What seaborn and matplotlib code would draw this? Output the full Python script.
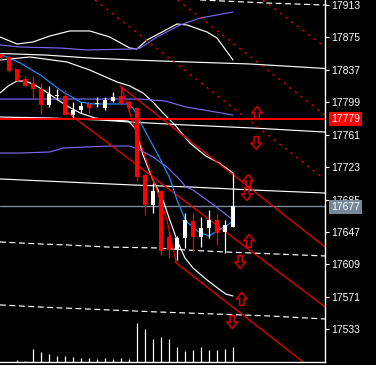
import numpy as np
import pandas as pd
import matplotlib
matplotlib.use("Agg")
import matplotlib.pyplot as plt
import matplotlib.transforms as mtransforms
from matplotlib.path import Path
import seaborn as sns

# ---------------- data ----------------
bar_idx = list(range(30))
opens = [17855.6, 17852.0, 17837.6, 17826.6, 17821.2, 17815.1, 17795.8, 17806.3, 17806.3, 17784.0,
         17789.9, 17796.9, 17796.9, 17791.9, 17800.8, 17806.3, 17799.9, 17792.3, 17713.7, 17678.5,
         17694.9, 17641.0, 17625.8, 17639.5, 17659.8, 17641.4, 17651.2, 17661.0, 17646.9, 17653.1]
highs = [17856.7, 17854.4, 17838.0, 17829.8, 17829.8, 17822.1, 17818.6, 17814.2, 17813.4, 17799.6,
         17799.6, 17799.6, 17805.7, 17805.5, 17811.4, 17816.9, 17801.6, 17793.4, 17714.9, 17704.3,
         17696.1, 17649.2, 17642.2, 17669.2, 17668.8, 17664.8, 17672.7, 17668.0, 17661.0, 17715.7]
lows = [17848.5, 17834.5, 17823.9, 17816.9, 17802.5, 17785.8, 17794.0, 17801.6, 17784.0, 17782.3,
        17786.0, 17786.0, 17793.4, 17789.9, 17799.6, 17795.8, 17788.7, 17706.7, 17667.4, 17669.5,
        17619.9, 17616.4, 17614.1, 17627.8, 17623.8, 17629.7, 17639.5, 17631.6, 17622.3, 17653.1]
closes = [17850.5, 17835.6, 17824.5, 17818.0, 17814.2, 17795.8, 17808.3, 17807.5, 17784.6, 17789.9,
          17794.6, 17791.9, 17798.1, 17801.6, 17805.5, 17797.5, 17792.3, 17711.7, 17678.5, 17694.9,
          17625.2, 17625.8, 17639.5, 17661.0, 17641.4, 17651.2, 17661.0, 17645.7, 17655.1, 17677.4]
volumes = [0, 0, 23, 13, 130, 100, 80, 63, 63, 53, 43, 43, 33, 43, 33, 43, 33,
           390, 330, 230, 250, 230, 150, 110, 120, 150, 120, 120, 130, 150]

# indicator lines: (bar position, price)
white_top_x = [-0.125, 2, 4, 6.1, 8.6, 11.1, 13.6, 16.1, 17, 18.25, 19.9, 22, 23.25, 25.75, 27, 29]
white_top_y = [17875.5, 17867.3, 17869.7, 17876.7, 17882.6, 17882.6, 17875.5, 17862.6, 17861.5, 17872.0,
               17880.2, 17890.8, 17889.6, 17881.4, 17874.3, 17848.6]
purple_top_x = [-0.125, 2.4, 7.4, 10.75, 16.5, 17.4, 19.5, 22.4, 24.9, 29]
purple_top_y = [17866.2, 17863.8, 17862.6, 17860.3, 17861.5, 17862.6, 17875.5, 17889.6, 17897.8, 17904.8]
white_lvl1_x = [-0.125, 5.5, 11.1, 16.75, 23.6, 31.1, 37.4, 40.5]
white_lvl1_y = [17856.2, 17854.4, 17850.9, 17848.5, 17846.2, 17843.9, 17840.4, 17838.6]
white_upper_x = [-0.125, 3.6, 8.25, 11.1, 14.5, 16.1, 17.75, 19, 20.25, 21.75, 23.6, 25.6, 27.25, 29]
white_upper_y = [17848.6, 17852.1, 17846.2, 17836.8, 17822.8, 17818.1, 17809.9, 17799.3, 17786.4,
                 17772.4, 17751.3, 17736.0, 17727.8, 17716.1]
white_lower_x = [-0.125, 0.9, 2, 3, 4.25, 5.5, 6.75, 8.25, 9.9, 11.75, 13.6, 15.9, 16.75, 17.75, 19,
                 20.25, 21.1, 22, 23, 24, 25.75, 27.4, 28.1, 29]
white_lower_y = [17809.9, 17818.1, 17823.9, 17823.9, 17819.3, 17812.2, 17804.0, 17794.6, 17786.4,
                 17780.6, 17778.2, 17777.0, 17768.8, 17737.2, 17707.9, 17684.4, 17661.0, 17637.5,
                 17616.4, 17604.7, 17590.7, 17578.9, 17574.2, 17571.9]
white_lvl2_x = [-0.125, 6.1, 12.4, 16.1, 23.1, 31.5, 40.5]
white_lvl2_y = [17781.7, 17780.6, 17778.2, 17775.9, 17772.4, 17768.8, 17764.1]
white_lvl3_x = [-0.125, 8.25, 16.5, 23.6, 31.5, 40.5]
white_lvl3_y = [17709.1, 17705.5, 17702.0, 17699.7, 17696.1, 17692.6]
dash1_x = [24.9, 30.75, 33.25, 40.5]
dash1_y = [17918.9, 17916.5, 17915.4, 17913.0]
dash2_x = [-0.125, 4.9, 8.25, 13.25, 19.5, 23.1, 28.1, 40.5]
dash2_y = [17635.2, 17632.9, 17631.7, 17629.3, 17628.2, 17625.8, 17623.5, 17618.8]
dash3_x = [-0.125, 4.9, 7.75, 13.6, 19.5, 23.1, 33.5, 40.5]
dash3_y = [17561.4, 17559.0, 17557.8, 17555.5, 17553.2, 17552.0, 17548.5, 17544.9]
blue_x = [-0.125, 2.4, 4.9, 7.4, 9.9, 11.5, 15.75, 16.5, 17.75, 19.5, 21.1, 22, 23.1, 24.75, 26, 27.25, 28.5, 29]
blue_y = [17855.6, 17845.0, 17831.0, 17813.4, 17799.3, 17797.0, 17797.0, 17792.3, 17770.0, 17739.5,
          17710.2, 17684.4, 17659.8, 17646.9, 17642.2, 17649.3, 17656.3, 17659.8]
purple_mid_x = [-0.125, 17.4, 20.5, 23.1, 29]
purple_mid_y = [17802.8, 17802.8, 17800.5, 17793.5, 17784.1]
purple_low_x = [-0.125, 2.4, 6.1, 7.75, 13.6, 16.1, 17.4, 19, 20.75, 22.4, 23.1, 24, 25.75, 27.4, 29]
purple_low_y = [17739.5, 17739.5, 17740.7, 17745.4, 17747.7, 17747.7, 17743.0, 17734.9, 17723.1,
                17707.9, 17699.7, 17696.2, 17684.4, 17672.7, 17661.0]

# red trend lines
dotted_lines = [([11.75, 40.25], [17918.9, 17710.2]),
                ([22.1, 40.5], [17918.9, 17784.1]),
                ([32.75, 40.5], [17918.9, 17863.8])]
solid_lines = [([14.9, 40.5], [17818.1, 17629.3]),
               ([8.4, 40.5], [17786.4, 17559.0]),
               ([21.75, 40.5], [17611.7, 17474.6]),
               ([15.1, 16.4, 18.6, 20.75, 21.4, 21.9], [17815.7, 17778.2, 17719.6, 17661.0, 17631.7, 17611.7])]

# signal arrows
up_x = [32.0, 30.9, 31.0, 30.1]
up_y = [17786.4, 17706.7, 17636.4, 17568.4]
down_x = [31.9, 30.75, 29.9, 28.9]
down_y = [17751.3, 17691.5, 17611.7, 17541.4]

tick_vals = [17533, 17571, 17609, 17647, 17685, 17723, 17761, 17799, 17837, 17875, 17913]
red_level = 17779
last_price = 17677

# ---------------- figure ----------------
sns.set_style("dark")
plt.rcParams['font.family'] = ['Liberation Sans', 'DejaVu Sans']

W, H = 376, 365
fig = plt.figure(figsize=(W / 100, H / 100), dpi=100, facecolor='black')
ax = fig.add_axes([0, 3 / H, 325 / W, 362 / H])
ax.set_facecolor('black')
ax.grid(False)
ax.set_xlim(-0.125, 40.5)
ax.set_ylim(17494.5, 17918.9)

lw = 0.85

def line(xs, ys, color, ls='-', z=2):
    sns.lineplot(x=xs, y=ys, ax=ax, color=color, linewidth=lw, linestyle=ls,
                 sort=False, estimator=None, zorder=z)

line(white_top_x, white_top_y, 'white')
line(purple_top_x, purple_top_y, '#7b68ee')
line(white_lvl1_x, white_lvl1_y, 'white')
line(white_upper_x, white_upper_y, 'white')
line(white_lower_x, white_lower_y, 'white')
line(white_lvl2_x, white_lvl2_y, 'white')
line(white_lvl3_x, white_lvl3_y, 'white')
line(dash1_x, dash1_y, 'white', (0, (5, 3)))
line(dash2_x, dash2_y, 'white', (0, (5, 3)))
line(dash3_x, dash3_y, 'white', (0, (5, 3)))
line(purple_mid_x, purple_mid_y, '#7b68ee')
line(purple_low_x, purple_low_y, '#7b68ee')
line(blue_x, blue_y, '#1e90ff', z=3)
for xs, ys in dotted_lines:
    line(xs, ys, '#ff0000', (0, (2, 4)))
for xs, ys in solid_lines:
    line(xs, ys, '#ff0000', z=2.5)

ax.axhline(red_level, color='#ff0000', lw=1.4, zorder=2.6)
ax.axhline(last_price, color='#778899', lw=1.0, zorder=1.5)

# candles
o = np.array(opens); c = np.array(closes); h = np.array(highs); l = np.array(lows)
cols = np.where(c >= o, 'white', '#ff0000')
ax.vlines(bar_idx, l, h, colors=cols, lw=0.9, zorder=4)
body_bottom = np.minimum(o, c)
body_h = np.maximum(np.abs(c - o), 0.9)
ax.bar(bar_idx, body_h, bottom=body_bottom, width=0.58, color=cols, linewidth=0, zorder=4)

# arrows
up_path = Path([(-0.17, -0.5), (0.17, -0.5), (0.17, 0.0), (0.42, 0.0), (0.0, 0.5),
                (-0.42, 0.0), (-0.17, 0.0), (-0.17, -0.5)], closed=True)
down_path = Path([(x, -y) for x, y in up_path.vertices], closed=True)
ax.scatter(up_x, up_y, marker=up_path, s=85, facecolors='none', edgecolors='#d80000', linewidths=1.1, zorder=5)
ax.scatter(down_x, down_y, marker=down_path, s=85, facecolors='none', edgecolors='#d80000', linewidths=1.1, zorder=5)

# axes styling
for s in ['top', 'left']:
    ax.spines[s].set_visible(False)
for s in ['right', 'bottom']:
    ax.spines[s].set_color('white')
    ax.spines[s].set_linewidth(1.0)
ax.set_xticks([])
ax.yaxis.tick_right()
ax.set_yticks(tick_vals)
ax.set_yticklabels([str(v) for v in tick_vals])
ax.tick_params(axis='y', colors='white', length=3, width=0.8, labelsize=7.5, pad=1.5,
               right=True, left=False)
ax.set_xlabel(''); ax.set_ylabel('')

trans = mtransforms.blended_transform_factory(ax.transAxes, ax.transData)
ax.text(1.018, red_level, str(red_level), transform=trans, ha='left', va='center',
        fontsize=7.5, color='white', zorder=10,
        bbox=dict(boxstyle='square,pad=0.18', fc='#ff0000', ec='none'))
ax.text(1.018, last_price - 1.0, str(last_price), transform=trans, ha='left', va='center',
        fontsize=7.5, color='white', zorder=10,
        bbox=dict(boxstyle='square,pad=0.18', fc='#778899', ec='none'))

# volume
axv = fig.add_axes([0, 3 / H, 325 / W, 362 / H], sharex=ax)
axv.patch.set_alpha(0)
axv.set_ylim(0, 3620)
axv.vlines(bar_idx, 0, volumes, colors='white', lw=0.9)
axv.axis('off')

fig.savefig('out.png', dpi=100, facecolor='black')
